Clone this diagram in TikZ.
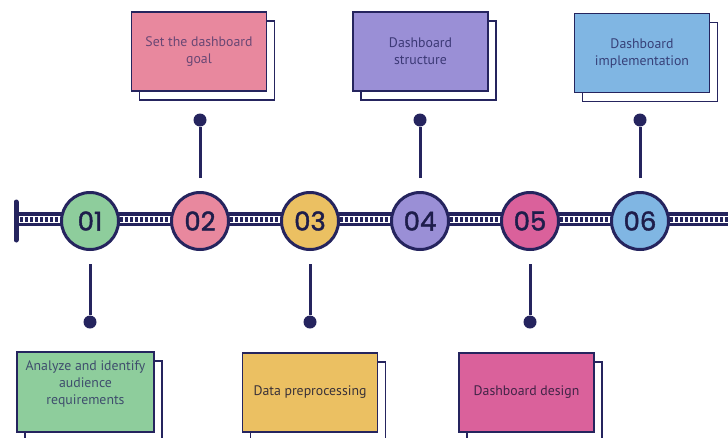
\documentclass[tikz,border=0pt]{standalone}
\usepackage{fontspec}
\setmainfont{PT Sans}
\newfontfamily\numfont{Poppins}[FakeBold=1.6]
\usetikzlibrary{shadows}
\definecolor{navy}{HTML}{25245E}
\definecolor{cgreen}{HTML}{8ECD9C}
\definecolor{cpink}{HTML}{E8889E}
\definecolor{cyellow}{HTML}{EBC062}
\definecolor{cpurple}{HTML}{9A8FD6}
\definecolor{cmagenta}{HTML}{DA619B}
\definecolor{cblue}{HTML}{80B6E3}
\tikzset{
  stepcircle/.style={circle, draw=navy, line width=3pt, minimum size=57pt, inner sep=0pt,
    font=\numfont\fontsize{26}{26}\selectfont, text=navy!80!black},
  infobox/.style={rectangle, draw=navy, line width=1.3pt, minimum width=135pt, minimum height=79pt,
    inner sep=2pt, align=center, font=\fontsize{13.8}{17}\selectfont,
    copy shadow={shadow xshift=8pt, shadow yshift=-9pt, fill=white, draw=navy, line width=1.3pt}},
  pindot/.style={circle, fill=navy, minimum size=13pt, inner sep=0pt},
  pinline/.style={navy, line width=3pt, shorten <=13pt}
}
\begin{document}
\begin{tikzpicture}[x=1pt,y=-1pt]
\useasboundingbox[fill=white] (0,0) rectangle (728,437);
% rail
\fill[navy] (14,212) rectangle (728,226);
\fill[white] (14,215.5) rectangle (728,222.5);
\foreach \x in {20,25,...,725} \fill[navy] (\x,216.5) rectangle ++(3,5);
\draw[navy, line width=5pt, line cap=round] (16,202) -- (16,240);
% circles
\node[stepcircle, fill=cgreen]   (c1) at (90,221)  {01};
\node[stepcircle, fill=cpink]    (c2) at (200,221) {02};
\node[stepcircle, fill=cyellow]  (c3) at (310,221) {03};
\node[stepcircle, fill=cpurple]  (c4) at (420,221) {04};
\node[stepcircle, fill=cmagenta] (c5) at (530,221) {05};
\node[stepcircle, fill=cblue]    (c6) at (640,221) {06};
% pins
\node[pindot] (d1) at (90,322) {};
\node[pindot] (d2) at (200,120) {};
\node[pindot] (d3) at (310,322) {};
\node[pindot] (d4) at (420,120) {};
\node[pindot] (d5) at (530,322) {};
\node[pindot] (d6) at (640,120) {};
\foreach \i in {1,...,6} \draw[pinline] (c\i) -- (d\i);
% boxes
\node[infobox, fill=cpink, text=navy!65!cpink] (b2) at (199,51.5) {Set the dashboard\\goal};
\node[infobox, fill=cpurple, text=navy!80!cpurple] (b4) at (420.5,51.5) {Dashboard\\structure};
\node[infobox, fill=cblue, text=navy!80!cblue] (b6) at (642,53) {Dashboard\\implementation};
\node[infobox, fill=cgreen, minimum width=137pt, minimum height=80pt,
  label={[yshift=8pt, align=center, font=\fontsize{13.8}{17}\selectfont, text=navy!75!cgreen]center:Analyze and identify\\audience\\requirements}] (b1) at (85.5,392) {};
\node[infobox, fill=cyellow, text=navy!70!cyellow!60!black] (b3) at (310,392.5) {Data preprocessing};
\node[infobox, fill=cmagenta, text=navy!60!cmagenta!60!black] (b5) at (526.5,392.5) {Dashboard design};
\end{tikzpicture}
\end{document}
